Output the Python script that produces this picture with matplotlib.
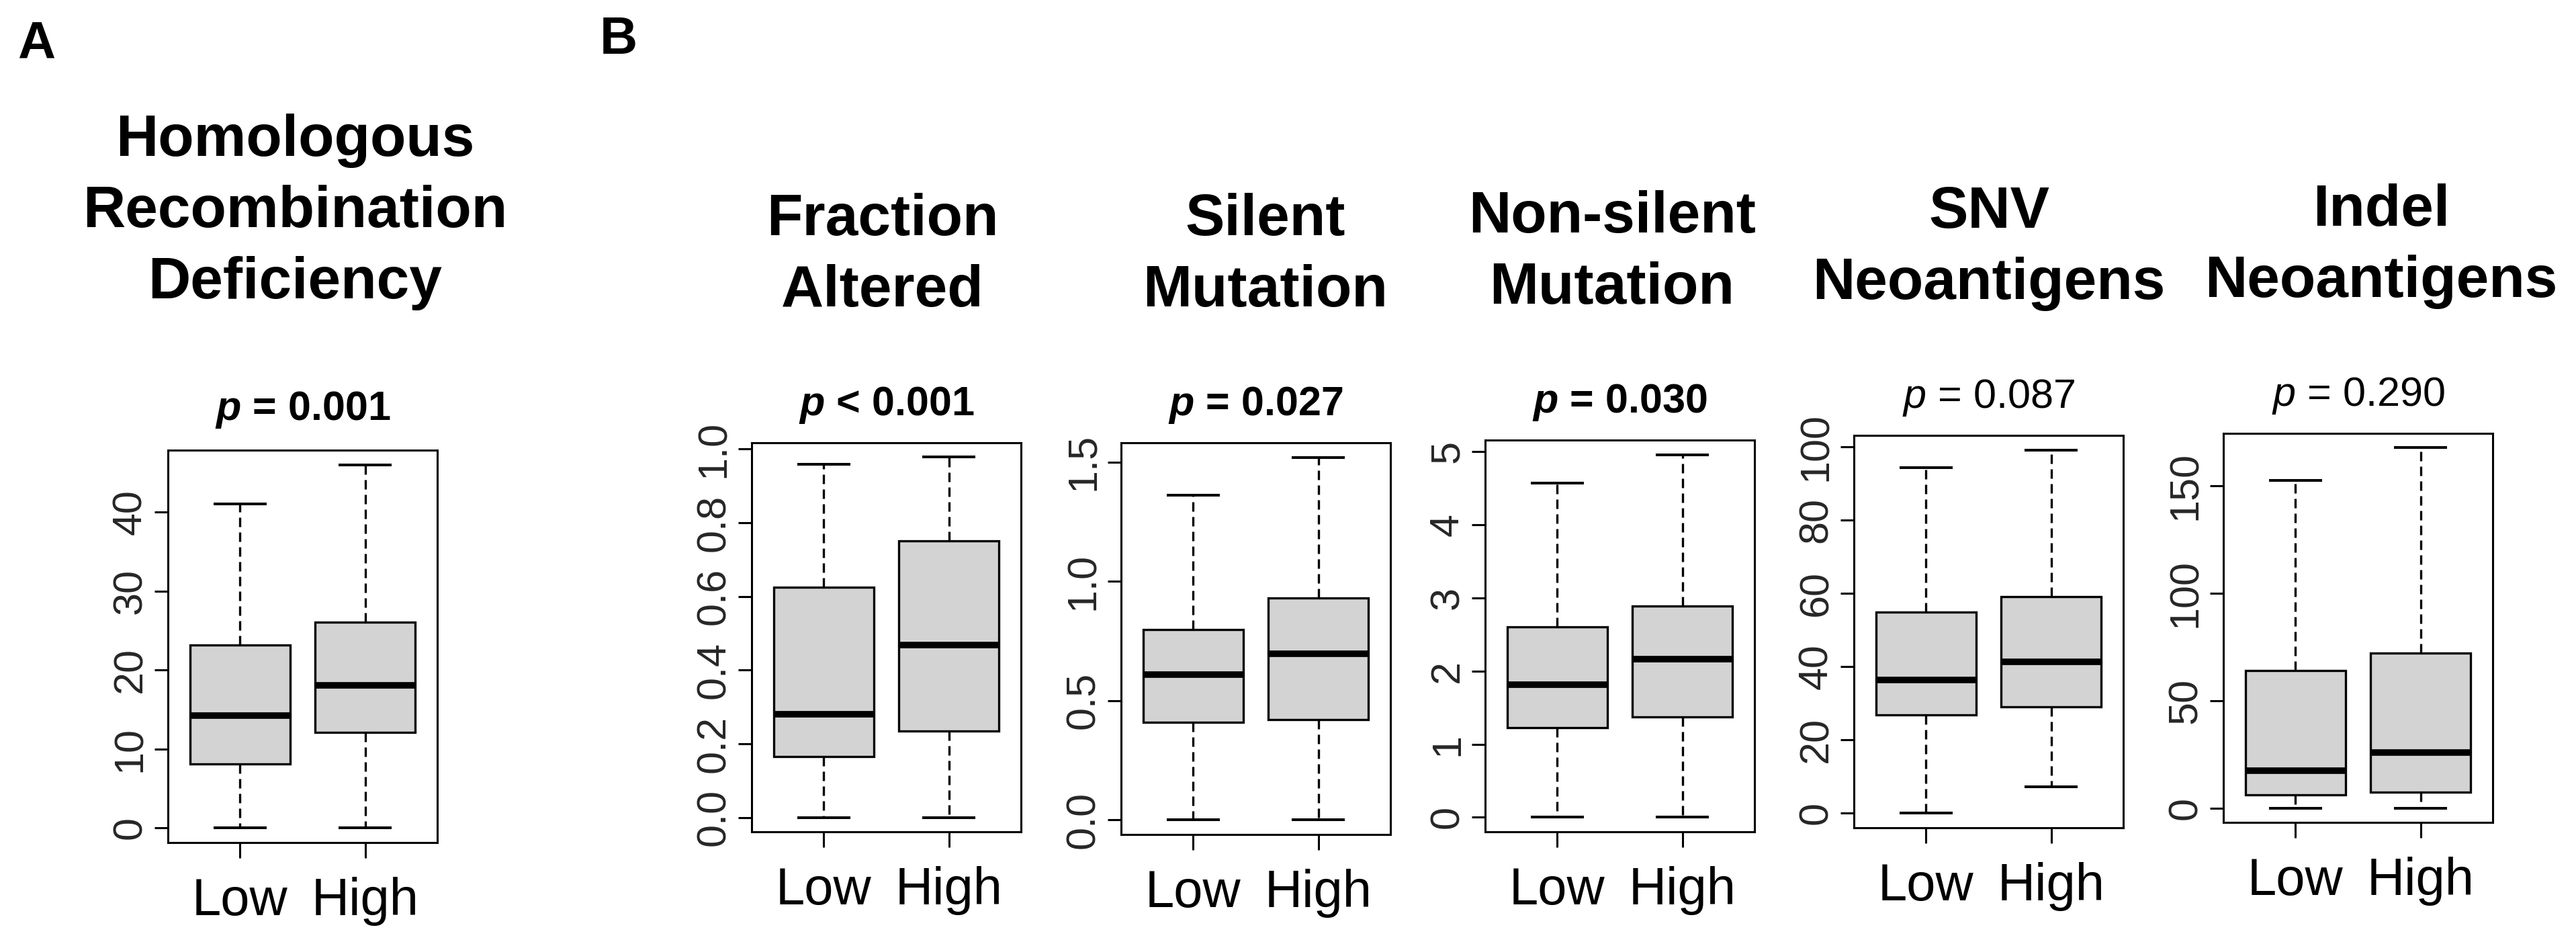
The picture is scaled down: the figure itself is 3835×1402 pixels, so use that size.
import numpy as np
import matplotlib
matplotlib.use("Agg")
import matplotlib.pyplot as plt

plt.rcParams["font.family"] = ["Liberation Sans", "DejaVu Sans"]
plt.rcParams["mathtext.fontset"] = "custom"
plt.rcParams["mathtext.rm"] = "Liberation Sans"
plt.rcParams["mathtext.it"] = "Liberation Sans:italic"
plt.rcParams["mathtext.bf"] = "Liberation Sans:bold"
plt.rcParams["mathtext.bfit"] = "Liberation Sans:italic:bold"

groups = ["Low", "High"]
titles = ["Homologous\nRecombination\nDeficiency", "Fraction\nAltered", "Silent\nMutation",
          "Non-silent\nMutation", "SNV\nNeoantigens", "Indel\nNeoantigens"]
p_text = ["= 0.001", "< 0.001", "= 0.027", "= 0.030", "= 0.087", "= 0.290"]
p_bold = [True, True, True, True, False, False]

# whisker low, Q1, median, Q3, whisker high  (Low group, High group)
hrd_low = [0, 8.1, 14.2, 23.2, 41.0]
hrd_high = [0, 12.1, 18.1, 26.1, 46.0]
fga_low = [0, 0.165, 0.28, 0.624, 0.958]
fga_high = [0, 0.235, 0.468, 0.750, 0.978]
silent_low = [0, 0.41, 0.61, 0.798, 1.36]
silent_high = [0, 0.422, 0.697, 0.929, 1.52]
nonsilent_low = [0, 1.23, 1.81, 2.60, 4.57]
nonsilent_high = [0, 1.37, 2.16, 2.89, 4.96]
snv_low = [0, 26.9, 36.3, 55.0, 94.3]
snv_high = [7.3, 29.0, 41.3, 59.1, 99.2]
indel_low = [0, 6.2, 17.4, 64.0, 152.5]
indel_high = [0, 7.3, 25.7, 72.1, 167.7]

summaries = [(hrd_low, hrd_high), (fga_low, fga_high), (silent_low, silent_high),
             (nonsilent_low, nonsilent_high), (snv_low, snv_high), (indel_low, indel_high)]

yticks = [[0, 10, 20, 30, 40],
          [0, 0.2, 0.4, 0.6, 0.8, 1.0],
          [0, 0.5, 1.0, 1.5],
          [0, 1, 2, 3, 4, 5],
          [0, 20, 40, 60, 80, 100],
          [0, 50, 100, 150]]
ytick_labels = [["0", "10", "20", "30", "40"],
                ["0.0", "0.2", "0.4", "0.6", "0.8", "1.0"],
                ["0.0", "0.5", "1.0", "1.5"],
                ["0", "1", "2", "3", "4", "5"],
                ["0", "20", "40", "60", "80", "100"],
                ["0", "50", "100", "150"]]

# layout in pixels: axes left, top, bottom ; title centre x
W, H = 3835, 1402
panels_px = [(250, 670, 1254), (1119, 659, 1238), (1669, 659, 1242),
             (2211, 655, 1238), (2760, 648, 1232), (3310, 645, 1224)]
title_x = [439, 1314, 1884, 2400, 2961, 3545]
axw = 401

fig = plt.figure(figsize=(W / 100, H / 100), dpi=100)

def fx(x):
    return x / W

def fy(y):
    return 1 - y / H

for i in range(6):
    left, top, bottom = panels_px[i]
    ax = fig.add_axes([fx(left), fy(bottom), axw / W, (bottom - top) / H])
    lo, hi = summaries[i]
    stats = []
    for s in (lo, hi):
        stats.append({"whislo": s[0], "q1": s[1], "med": s[2], "q3": s[3],
                      "whishi": s[4], "fliers": []})
    ax.bxp(stats, positions=[1, 2], widths=0.8, capwidths=0.4, patch_artist=True,
           showfliers=False,
           boxprops=dict(facecolor="#D3D3D3", edgecolor="black", linewidth=2.4, joinstyle="miter"),
           medianprops=dict(color="black", linewidth=7, solid_capstyle="butt"),
           whiskerprops=dict(color="black", linewidth=2.4, linestyle=(0, (4.2, 2.4))),
           capprops=dict(color="black", linewidth=2.9))
    ymin = min(lo[0], hi[0])
    ymax = max(lo[4], hi[4])
    ext = 0.04 * (ymax - ymin)
    ax.set_ylim(ymin - ext, ymax + ext)
    ax.set_xlim(0.425, 2.575)
    ax.set_xticks([1, 2], groups)
    ax.set_yticks(yticks[i], ytick_labels[i], rotation=90, va="center")
    ax.tick_params(axis="y", length=14.4, width=2.2, pad=5, labelsize=44, labelcolor="#262626")
    ax.tick_params(axis="x", length=16.5, width=2.2, pad=20, labelsize=56)
    for sp in ax.spines.values():
        sp.set_linewidth(2.2)

    # panel title (baseline of the last line)
    tb = 444 if i == 0 else top - 203
    fig.text(fx(title_x[i]), fy(tb), titles[i], ha="center", va="baseline",
             fontsize=63, fontweight="bold", linespacing=1.4)

    # p value
    pb = top - 45 if i == 0 else top - 41
    if p_bold[i]:
        s = r"$\mathbfit{p}$ " + p_text[i]
        fig.text(fx(left + axw / 2), fy(pb), s, ha="center", va="baseline",
                 fontsize=44, fontweight="bold")
    else:
        s = r"$\mathit{p}$ " + p_text[i]
        fig.text(fx(left + axw / 2), fy(pb), s, ha="center", va="baseline", fontsize=44)

fig.text(fx(26), fy(87), "A", fontsize=56, fontweight="bold", va="baseline")
fig.text(fx(893), fy(80), "B", fontsize=56, fontweight="bold", va="baseline")

plt.savefig("out.png", dpi=100)
